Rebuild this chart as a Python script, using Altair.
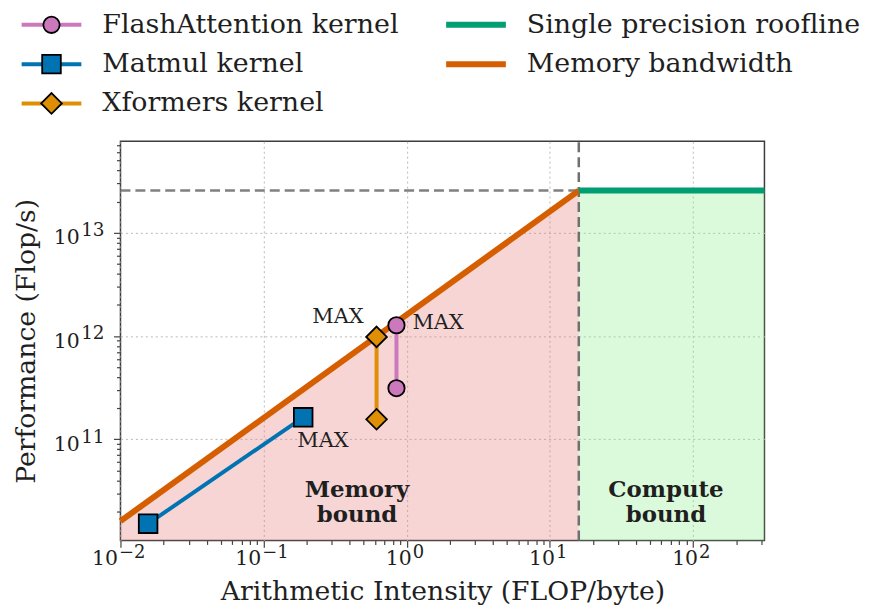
import altair as alt
import pandas as pd

# ---------------- data ----------------
series_names = ["FlashAttention kernel", "Matmul kernel", "Xformers kernel",
                "Single precision roofline", "Memory bandwidth"]
series_colors = ["#CC78BC", "#0173B2", "#DE8F05", "#029E73", "#D55E00"]
marker_shapes = ["circle", "square", "diamond"]

flash_ai = [0.847, 0.847]
flash_perf = [3.12e11, 1.27e12]
matmul_ai = [0.0156, 0.189]
matmul_perf = [1.52e10, 1.63e11]
xformers_ai = [0.615, 0.615]
xformers_perf = [1.56e11, 9.8e11]

peak_flops = 2.56e13          # single precision roofline (Flop/s)
mem_bw = 1.61e12              # memory bandwidth (byte/s)
ridge_ai = peak_flops / mem_bw

x_domain = [0.01, 315]
y_domain = [1.047e10, 7.69e13]

tick_base = "10"
x_tick_exps = [-2, -1, 0, 1, 2]
x_tick_sup = ["−2", "−1", "0", "1", "2"]
y_tick_exps = [11, 12, 13]
y_tick_sup = ["11", "12", "13"]

region_labels = ["Memory\nbound", "Compute\nbound"]
region_ai = [0.449, 64.6]
region_perf = [3.25e10, 3.25e10]

legend_col = [0, 0, 0, 1, 1]
legend_row = [0, 1, 2, 0, 1]
legend_marker = ["circle", "square", "diamond", "none", "none"]

FONT = "DejaVu Serif"
TXT = "#1f1f1f"

# ---------------- tables ----------------
kern = pd.DataFrame({
    "kernel": [series_names[0]] * 2 + [series_names[1]] * 2 + [series_names[2]] * 2,
    "marker": ["circle"] * 2 + ["square"] * 2 + ["diamond"] * 2,
    "ai": flash_ai + matmul_ai + xformers_ai,
    "perf": flash_perf + matmul_perf + xformers_perf,
})
kern["is_max"] = kern.groupby("kernel")["perf"].transform("max") == kern["perf"]
kern["lab"] = "MAX"

mem_df = pd.DataFrame({"ai": [x_domain[0], ridge_ai],
                       "perf": [mem_bw * x_domain[0], peak_flops],
                       "base": [y_domain[0], y_domain[0]],
                       "series": [series_names[4]] * 2})
comp_df = pd.DataFrame({"ai": [ridge_ai, x_domain[1]],
                        "perf": [peak_flops, peak_flops],
                        "base": [y_domain[0], y_domain[0]],
                        "series": [series_names[3]] * 2})
hdash_df = pd.DataFrame({"ai": [x_domain[0]], "ai2": [ridge_ai], "perf": [peak_flops]})
vdash_df = pd.DataFrame({"ai": [ridge_ai], "perf": [y_domain[0]], "perf2": [y_domain[1]]})
region_df = pd.DataFrame({"txt": region_labels, "ai": region_ai, "perf": region_perf})

xlab_df = pd.DataFrame({"ai": [10.0 ** e for e in x_tick_exps],
                        "perf": [y_domain[0]] * len(x_tick_exps),
                        "base": [tick_base] * len(x_tick_exps),
                        "sup": x_tick_sup,
                        "neg": [e < 0 for e in x_tick_exps]})
ylab_df = pd.DataFrame({"ai": [x_domain[0]] * len(y_tick_exps),
                        "perf": [10.0 ** e for e in y_tick_exps],
                        "base": [tick_base] * len(y_tick_exps),
                        "sup": y_tick_sup})

# ---------------- axes ----------------
def minor_vals(lo_exp, hi_exp, lo, hi):
    out = []
    for e in range(lo_exp, hi_exp + 1):
        for m in range(1, 10):
            v = m * 10.0 ** e
            if lo * 0.9999 <= v <= hi:
                out.append(v)
    return out

x_vals = minor_vals(-2, 2, *x_domain)
y_vals = minor_vals(10, 13, *y_domain)

major_test = "abs(log(datum.value)/LN10 - round(log(datum.value)/LN10)) < 0.001"

common_axis = dict(
    labels=False,
    titleFont=FONT, titleFontSize=26.8, titleFontWeight="normal", titleColor=TXT,
    tickColor="#444444", tickWidth=1.2,
    tickSize={"condition": {"test": major_test, "value": 7}, "value": 4},
    grid=True, gridColor="#b8b8b8", gridDash=[2, 3], gridWidth=1,
    gridOpacity={"condition": {"test": major_test, "value": 1}, "value": 0},
    domain=False,
)

x_axis = alt.Axis(title="Arithmetic Intensity (FLOP/byte)", values=x_vals,
                  titlePadding=8, minExtent=30, maxExtent=30, **common_axis)
y_axis = alt.Axis(title="Performance (Flop/s)", values=y_vals,
                  titlePadding=20, minExtent=60, maxExtent=60, **common_axis)

xs = alt.Scale(type="log", domain=x_domain, nice=False)
ys = alt.Scale(type="log", domain=y_domain, nice=False)
X = alt.X("ai:Q", scale=xs, axis=x_axis)
Y = alt.Y("perf:Q", scale=ys, axis=y_axis)

color_scale = alt.Scale(domain=series_names, range=series_colors)
shape_scale = alt.Scale(domain=marker_shapes, range=marker_shapes)
size_scale = alt.Scale(domain=marker_shapes, range=[270, 430, 700])

# ---------------- main layers ----------------
pink = alt.Chart(mem_df).mark_area(color="#E88080", opacity=0.33).encode(
    x=X, y=Y, y2="base:Q")
green = alt.Chart(comp_df).mark_area(color="#90EE90", opacity=0.32).encode(
    x=X, y=Y, y2="base:Q")
hdash = alt.Chart(hdash_df).mark_rule(color="#808080", strokeWidth=2.5,
                                      strokeDash=[10, 5]).encode(
    x=X, x2="ai2:Q", y=Y)
vdash = alt.Chart(vdash_df).mark_rule(color="#707070", strokeWidth=2.5,
                                      strokeDash=[10, 5]).encode(
    x=X, y=Y, y2="perf2:Q")
membw = alt.Chart(mem_df).mark_line(strokeWidth=6).encode(
    x=X, y=Y, color=alt.Color("series:N", scale=color_scale, legend=None))
single = alt.Chart(comp_df).mark_line(strokeWidth=6).encode(
    x=X, y=Y, color=alt.Color("series:N", scale=color_scale, legend=None))
klines = alt.Chart(kern).mark_line(strokeWidth=4).encode(
    x=X, y=Y, detail="kernel:N", order="perf:Q",
    color=alt.Color("kernel:N", scale=color_scale, legend=None))
kpoints = alt.Chart(kern).mark_point(filled=True, opacity=1, stroke="black",
                                     strokeWidth=1.8).encode(
    x=X, y=Y,
    fill=alt.Fill("kernel:N", scale=color_scale, legend=None),
    shape=alt.Shape("marker:N", scale=shape_scale, legend=None),
    size=alt.Size("marker:N", scale=size_scale, legend=None))

def max_label(kernel_name, align, dx, dy):
    return alt.Chart(kern).transform_filter(
        (alt.datum.kernel == kernel_name) & alt.datum.is_max
    ).mark_text(font=FONT, fontSize=21, color=TXT, align=align,
                baseline="middle", dx=dx, dy=dy).encode(x=X, y=Y, text="lab:N")

max_flash = max_label(series_names[0], "left", 16, -2)
max_mat = max_label(series_names[1], "left", -6, 24)
max_xf = max_label(series_names[2], "right", -13, -20)

regions = alt.Chart(region_df).mark_text(
    font=FONT, fontSize=23, fontWeight="bold", color=TXT, align="center",
    baseline="middle", lineBreak="\n", lineHeight=26).encode(
    x=X, y=Y, text="txt:N")

# tick labels: "10" with a raised, smaller exponent
def tick_text(df, field, cond, align, dx, dy, size):
    c = alt.Chart(df)
    if cond is not None:
        c = c.transform_filter(cond)
    return c.mark_text(font=FONT, fontSize=size, color=TXT, align=align,
                       baseline="alphabetic", dx=dx, dy=dy).encode(
        x=X, y=Y, text=f"{field}:N")

xb_neg = tick_text(xlab_df, "base", alt.datum.neg, "right", -2.5, 25, 20.5)
xb_pos = tick_text(xlab_df, "base", ~alt.datum.neg, "right", 5, 25, 20.5)
xs_neg = tick_text(xlab_df, "sup", alt.datum.neg, "left", -1.5, 18, 18)
xs_pos = tick_text(xlab_df, "sup", ~alt.datum.neg, "left", 6, 18, 18)
yb = tick_text(ylab_df, "base", None, "right", -41, 11.6, 20.5)
ysu = tick_text(ylab_df, "sup", None, "right", -16, 3.5, 18.5)

main = alt.layer(pink, green, hdash, vdash, membw, single, klines, kpoints,
                 max_flash, max_mat, max_xf, regions,
                 xb_neg, xb_pos, xs_neg, xs_pos, yb, ysu)

# ---------------- legend (drawn as marks above the plot, own scales) ----------------
leg_df = pd.DataFrame({"name": series_names, "col": legend_col,
                       "row": legend_row, "marker": legend_marker})
LX = alt.X("col:Q", scale=alt.Scale(domain=[0, 1], range=[-69.3, 357.2]), axis=None)
LY = alt.Y("row:Q", scale=alt.Scale(domain=[0, 2], range=[-117, -38]), axis=None)
LC = alt.Color("name:N", scale=color_scale, legend=None)

leg_line_k = alt.Chart(leg_df).transform_filter(alt.datum.col == 0).mark_point(
    shape="M-1,0L1,0", size=3600, strokeWidth=4, filled=False, opacity=1).encode(
    x=LX, y=LY, color=LC)
leg_line_r = alt.Chart(leg_df).transform_filter(alt.datum.col == 1).mark_point(
    shape="M-1,0L1,0", size=3600, strokeWidth=6, filled=False, opacity=1).encode(
    x=LX, y=LY, color=LC)
leg_marker = alt.Chart(leg_df).transform_filter(alt.datum.marker != "none").mark_point(
    filled=True, opacity=1, stroke="black", strokeWidth=1.8).encode(
    x=LX, y=LY,
    fill=alt.Fill("name:N", scale=color_scale, legend=None),
    shape=alt.Shape("marker:N", scale=shape_scale, legend=None),
    size=alt.Size("marker:N", scale=size_scale, legend=None))
leg_text = alt.Chart(leg_df).mark_text(
    font=FONT, fontSize=27, color=TXT, align="left", baseline="middle",
    dx=51).encode(x=LX, y=LY, text="name:N")

legend = alt.layer(leg_line_k, leg_line_r, leg_marker, leg_text)

chart = alt.layer(main, legend).resolve_scale(
    x="independent", y="independent"
).properties(
    width=647, height=401,
    view=alt.ViewBackground(stroke="#3c3c3c", strokeWidth=1.5),
    padding={"left": 5, "top": 1.5, "right": 0, "bottom": 0},
)

chart.save("out.html", embed_options={"renderer": "svg", "actions": False})
